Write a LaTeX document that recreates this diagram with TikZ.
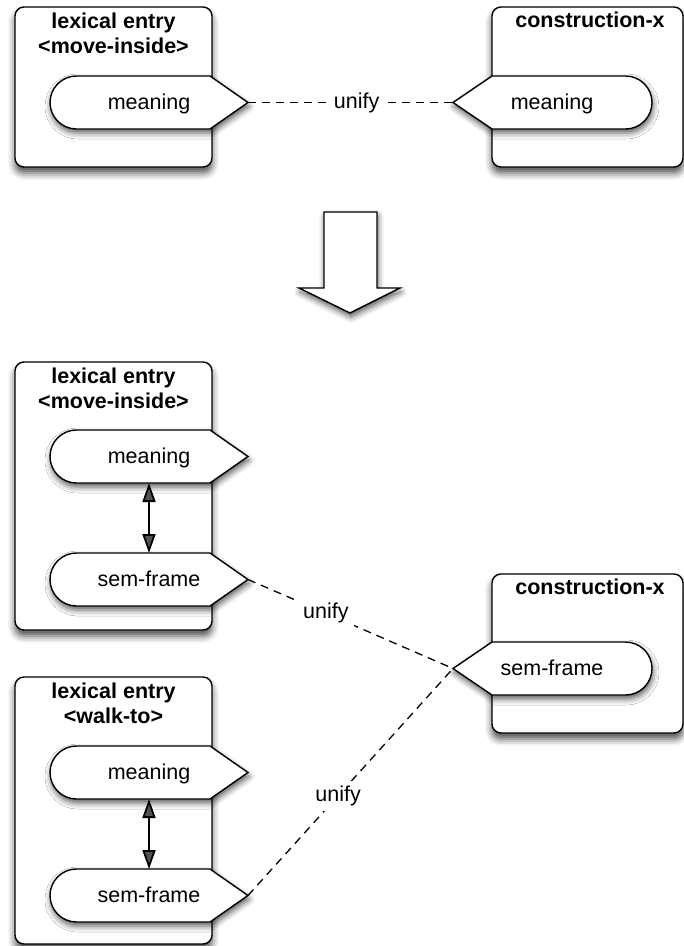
\documentclass[tikz,border=0pt]{standalone}
\usepackage{fontspec}
\setmainfont{Liberation Sans}
\usetikzlibrary{arrows.meta,shadows.blur}

\tikzset{
  frame/.style={draw=black, line width=1.4pt, fill=white, rounded corners=9pt,
    blur shadow={shadow xshift=0pt, shadow yshift=-6pt, shadow blur radius=7pt, shadow opacity=70}},
  pill/.style={draw=black, line width=1.4pt, fill=white, line join=miter,
    blur shadow={shadow xshift=1pt, shadow yshift=-4pt, shadow blur radius=6pt, shadow opacity=65}},
  heading/.style={font=\bfseries\fontsize{21.5}{25}\selectfont, anchor=base, inner sep=0pt},
  slot/.style={font=\fontsize{21.5}{25}\selectfont, anchor=base, inner sep=0pt},
  unifyline/.style={line width=1.3pt, dash pattern=on 8pt off 6pt},
  unifylabel/.style={font=\fontsize{21.5}{25}\selectfont, fill=white, inner sep=5pt},
  link/.style={line width=1.8pt, {Triangle[width=13pt,length=19pt]}-{Triangle[width=13pt,length=19pt]}},
}

% slot whose point faces right: name, top edge, label
\newcommand\slotright[3]{%
  \path[pill] (76.5,#2+53) arc[start angle=90,end angle=270,radius=26.5]
    -- (210,#2) -- (248,#2+26.5) -- (210,#2+53) -- cycle;
  \coordinate (#1-tip) at (248,#2+26.5);
  \coordinate (#1-n) at (149,#2);
  \coordinate (#1-s) at (149,#2+53);
  \node[slot] (#1) at (149,#2+33.5) {#3};
}
% slot whose point faces left: name, top edge, label
\newcommand\slotleft[3]{%
  \path[pill] (453,#2+26.5) -- (492,#2) -- (625.5,#2)
    arc[start angle=270,end angle=450,radius=26.5] -- (492,#2+53) -- cycle;
  \coordinate (#1-tip) at (453,#2+26.5);
  \node[slot] (#1) at (552,#2+33.5) {#3};
}

\begin{document}
\begin{tikzpicture}[x=1pt,y=-1pt]
  \useasboundingbox (0,0) rectangle (684,946);

  % upper row
  \draw[frame] (15,7) rectangle (212,167);
  \slotright{m1}{76}{meaning}
  \node[heading] (t1a) at (113.5,28) {lexical entry};
  \node[heading] (t1b) at (113.5,53) {<move-inside>};

  \draw[frame] (492,7) rectangle (683,167);
  \slotleft{m2}{76}{meaning}
  \node[heading] (t2) at (590,27) {construction-x};

  \draw[unifyline] (m1-tip) -- node[unifylabel, pos=0.53] (u1) {unify} (m2-tip);

  % big downward arrow
  \path[pill] (324,212) -- (377,212) -- (377,288) -- (400,288) -- (350,313)
    -- (299,288) -- (324,288) -- cycle;

  % lower row: move-inside
  \draw[frame] (15,362) rectangle (212,630);
  \slotright{m3}{430}{meaning}
  \slotright{s3}{553}{sem-frame}
  \node[heading] (t3a) at (113.5,383) {lexical entry};
  \node[heading] (t3b) at (113.5,408) {<move-inside>};
  \draw[link] (m3-s) -- (s3-n);

  % lower row: construction-x
  \draw[frame] (492,574) rectangle (683,733);
  \slotleft{s4}{642}{sem-frame}
  \node[heading] (t4) at (590,594) {construction-x};

  % lower row: walk-to
  \draw[frame] (15,677) rectangle (212,944);
  \slotright{m5}{746}{meaning}
  \slotright{s5}{869}{sem-frame}
  \node[heading] (t5a) at (113.5,698) {lexical entry};
  \node[heading] (t5b) at (113.5,723) {<walk-to>};
  \draw[link] (m5-s) -- (s5-n);

  % unification links
  \draw[unifyline] (s3-tip) -- node[unifylabel, pos=0.38] (u2) {unify} (s4-tip);
  \draw[unifyline] (s5-tip) -- node[unifylabel, pos=0.44] (u3) {unify} (s4-tip);
\end{tikzpicture}
\end{document}
